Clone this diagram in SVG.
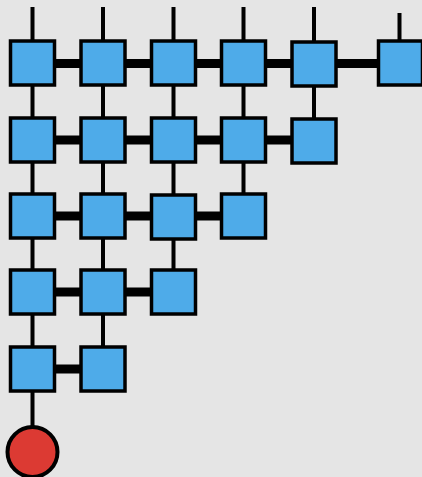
<svg xmlns="http://www.w3.org/2000/svg" width="422" height="477" viewBox="0 0 422 477">
<style>
.bg{fill:#e5e5e5}
.box{fill:#4eabe9;stroke:#000;stroke-width:3.5}
.v{stroke:#000;stroke-width:4;fill:none}
.h{stroke:#000;stroke-width:9;fill:none}
.root{fill:#dc3a33;stroke:#000;stroke-width:4}
</style>
<rect class="bg" x="0" y="0" width="422" height="477"/>
<g id="connectors">
<line class="v" x1="32.5" y1="7" x2="32.5" y2="430"/>
<line class="v" x1="103" y1="7" x2="103" y2="368"/>
<line class="v" x1="173.5" y1="7" x2="173.5" y2="292"/>
<line class="v" x1="243.5" y1="7" x2="243.5" y2="216"/>
<line class="v" x1="314" y1="7" x2="314" y2="140"/>
<line class="v" x1="399.5" y1="13" x2="399.5" y2="63"/>
<line class="h" x1="32.5" y1="63.5" x2="399.5" y2="63.5"/>
<line class="h" x1="32.5" y1="140" x2="314" y2="140"/>
<line class="h" x1="32.5" y1="216" x2="243.5" y2="216"/>
<line class="h" x1="32.5" y1="292" x2="173.5" y2="292"/>
<line class="h" x1="32.5" y1="369" x2="103" y2="369"/>
</g>
<g id="r1c1"><rect class="box" x="10.5" y="41" width="44" height="44"/></g>
<g id="r1c2"><rect class="box" x="81" y="41" width="44" height="44"/></g>
<g id="r1c3"><rect class="box" x="151.5" y="41" width="44" height="44"/></g>
<g id="r1c4"><rect class="box" x="221.5" y="41" width="44" height="44"/></g>
<g id="r1c5"><rect class="box" x="292" y="42" width="44" height="44"/></g>
<g id="r1c6"><rect class="box" x="378.5" y="41" width="44" height="44"/></g>
<g id="r2c1"><rect class="box" x="10.5" y="118" width="44" height="44"/></g>
<g id="r2c2"><rect class="box" x="81" y="118" width="44" height="44"/></g>
<g id="r2c3"><rect class="box" x="151.5" y="118" width="44" height="44"/></g>
<g id="r2c4"><rect class="box" x="221.5" y="118" width="44" height="44"/></g>
<g id="r2c5"><rect class="box" x="292" y="119" width="44" height="44"/></g>
<g id="r3c1"><rect class="box" x="10.5" y="194" width="44" height="44"/></g>
<g id="r3c2"><rect class="box" x="81" y="194" width="44" height="44"/></g>
<g id="r3c3"><rect class="box" x="151.5" y="195" width="44" height="44"/></g>
<g id="r3c4"><rect class="box" x="221.5" y="194" width="44" height="44"/></g>
<g id="r4c1"><rect class="box" x="10.5" y="270" width="44" height="44"/></g>
<g id="r4c2"><rect class="box" x="81" y="270" width="44" height="44"/></g>
<g id="r4c3"><rect class="box" x="151.5" y="270" width="44" height="44"/></g>
<g id="r5c1"><rect class="box" x="10.5" y="347" width="44" height="44"/></g>
<g id="r5c2"><rect class="box" x="81" y="347" width="44" height="44"/></g>
<g id="root"><circle class="root" cx="32.5" cy="452" r="25"/></g>
</svg>
